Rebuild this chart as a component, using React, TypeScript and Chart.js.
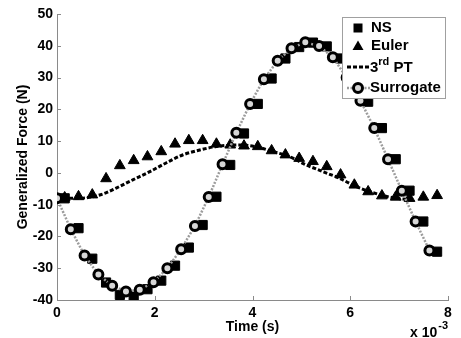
import { useEffect, useRef } from 'react';
import { Chart, registerables } from 'chart.js';

Chart.register(...registerables);

// Times in milliseconds (axis shows x 10^-3 s)
const nsTime = [0.157, 0.44, 0.722, 1.004, 1.286, 1.569, 1.851, 2.133, 2.415, 2.697, 2.98, 3.262, 3.544, 3.826, 4.108, 4.391, 4.673, 4.955, 5.237, 5.519, 5.802, 6.084, 6.366, 6.648, 6.93, 7.213, 7.495, 7.777];
const nsForce = [-8.0, -17.4, -27.0, -34.5, -38.4, -38.9, -36.6, -33.9, -29.2, -23.5, -16.4, -7.5, 2.5, 12.4, 21.7, 29.7, 36.0, 39.6, 41.0, 39.8, 36.0, 30.0, 22.4, 14.1, 4.3, -5.6, -15.3, -24.8];

const eulerTime = nsTime;
const eulerForce = [-7.8, -7.45, -6.9, -1.8, 2.3, 3.9, 5.1, 6.7, 9.1, 10.2, 10.2, 9.1, 8.8, 8.5, 8.3, 7.0, 5.7, 4.6, 3.6, 2.0, -0.6, -3.8, -5.9, -7.2, -7.6, -8.0, -7.6, -7.1];

const ptTime = [0, 0.35, 0.7, 1.0, 1.21, 1.55, 1.9, 2.24, 2.58, 2.92, 3.26, 3.74, 4.1, 4.42, 4.76, 5.1, 5.44, 5.78, 6.12, 6.46, 6.8, 7.15, 7.3];
const ptForce = [-8.0, -8.0, -7.6, -6.3, -4.8, -2.2, 0.4, 3.2, 5.7, 7.2, 8.3, 8.8, 8.1, 6.7, 5.1, 2.5, 0.4, -1.7, -4.3, -6.2, -7.6, -8.3, -8.3];

const surTime = [0, 0.282, 0.564, 0.847, 1.129, 1.411, 1.693, 1.975, 2.258, 2.54, 2.822, 3.104, 3.387, 3.669, 3.951, 4.233, 4.515, 4.798, 5.08, 5.362, 5.644, 5.926, 6.209, 6.491, 6.773, 7.055, 7.337, 7.62];
const surForce = [-8.0, -17.7, -26.0, -32.0, -35.5, -37.3, -36.8, -34.4, -30.0, -24.0, -16.7, -7.6, 2.7, 12.6, 21.7, 29.5, 35.3, 39.2, 41.1, 39.9, 36.4, 30.0, 22.7, 14.1, 4.3, -5.6, -15.3, -24.4];

const xTicks = [0, 2, 4, 6, 8];
const yTicks = [-40, -30, -20, -10, 0, 10, 20, 30, 40, 50];

const FONT = "'Liberation Sans', Arial, Helvetica, sans-serif";
const AXIS_GRAY = '#8a8a8a';
const SUR_GRAY = '#9c9c9c';

const pts = (xs: number[], ys: number[]) => xs.map((x, i) => ({ x, y: ys[i] }));

const overlayPlugin = {
  id: 'overlay',
  afterDatasetsDraw(chart: any) {
    const { ctx, chartArea, scales } = chart;
    const xs = scales.x;
    const ys = scales.y;
    ctx.save();
    // inward tick marks
    ctx.strokeStyle = AXIS_GRAY;
    ctx.lineWidth = 1;
    ctx.beginPath();
    xTicks.forEach((t) => {
      const px = Math.round(xs.getPixelForValue(t)) + 0.5;
      ctx.moveTo(px, chartArea.bottom);
      ctx.lineTo(px, chartArea.bottom - 4);
    });
    yTicks.forEach((t) => {
      const py = Math.round(ys.getPixelForValue(t)) + 0.5;
      ctx.moveTo(chartArea.left, py);
      ctx.lineTo(chartArea.left + 4, py);
    });
    ctx.stroke();

    // exponent label
    ctx.fillStyle = '#000';
    ctx.font = `bold 14px ${FONT}`;
    ctx.textBaseline = 'alphabetic';
    ctx.textAlign = 'left';
    const ex = 410;
    ctx.fillText('x 10', ex, 337);
    const w = ctx.measureText('x 10').width;
    ctx.font = `bold 11px ${FONT}`;
    ctx.fillText('-3', ex + w + 1, 329);

    // legend box
    const lx = 342, ly = 17, lw = 103, lh = 81;
    ctx.fillStyle = '#fff';
    ctx.fillRect(lx, ly, lw, lh);
    ctx.strokeStyle = '#a0a0a0';
    ctx.lineWidth = 1;
    ctx.strokeRect(lx + 0.5, ly + 0.5, lw, lh);

    const mx = 358;
    const tx = 371;
    const rows = [28, 46, 67, 88];
    ctx.fillStyle = '#000';
    // NS square
    ctx.fillRect(mx - 4.5, rows[0] - 4.5, 9, 9);
    // Euler triangle
    ctx.beginPath();
    ctx.moveTo(mx, rows[1] - 5.5);
    ctx.lineTo(mx + 5.5, rows[1] + 4);
    ctx.lineTo(mx - 5.5, rows[1] + 4);
    ctx.closePath();
    ctx.fill();
    // 3rd PT dashed line
    ctx.strokeStyle = '#000';
    ctx.lineWidth = 3;
    ctx.setLineDash([4, 2]);
    ctx.beginPath();
    ctx.moveTo(347, rows[2]);
    ctx.lineTo(370, rows[2]);
    ctx.stroke();
    // Surrogate line + circle
    ctx.strokeStyle = SUR_GRAY;
    ctx.lineWidth = 2.5;
    ctx.setLineDash([2, 1.5]);
    ctx.beginPath();
    ctx.moveTo(347, rows[3]);
    ctx.lineTo(370, rows[3]);
    ctx.stroke();
    ctx.setLineDash([]);
    ctx.beginPath();
    ctx.arc(mx, rows[3], 4.5, 0, Math.PI * 2);
    ctx.fillStyle = '#d6d6d6';
    ctx.fill();
    ctx.lineWidth = 3;
    ctx.strokeStyle = '#000';
    ctx.stroke();

    // legend text
    ctx.fillStyle = '#000';
    ctx.textBaseline = 'middle';
    ctx.font = `bold 15px ${FONT}`;
    ctx.fillText('NS', tx, rows[0]);
    ctx.fillText('Euler', tx, rows[1]);
    ctx.fillText('3', tx - 1, rows[2] + 1);
    const w3 = ctx.measureText('3').width;
    ctx.font = `bold 11px ${FONT}`;
    ctx.fillText('rd', tx - 1 + w3, rows[2] - 5);
    const wrd = ctx.measureText('rd').width;
    ctx.font = `bold 15px ${FONT}`;
    ctx.fillText(' PT', tx - 1 + w3 + wrd, rows[2] + 1);
    ctx.fillText('Surrogate', tx - 1, rows[3]);
    ctx.restore();
  },
};

export default function App() {
  const canvasRef = useRef<HTMLCanvasElement | null>(null);

  useEffect(() => {
    const canvas = canvasRef.current;
    if (!canvas) return;
    const chart = new Chart(canvas, {
      type: 'line',
      data: {
        datasets: [
          {
            label: 'Surrogate',
            data: pts(surTime, surForce),
            borderColor: SUR_GRAY,
            borderWidth: 2.5,
            borderDash: [2, 1.5],
            pointStyle: 'circle',
            pointRadius: 4.5,
            pointBorderWidth: 3,
            pointBorderColor: '#000',
            pointBackgroundColor: '#d6d6d6',
            tension: 0,
            order: 1,
          },
          {
            label: '3rd PT',
            data: pts(ptTime, ptForce),
            borderColor: '#000',
            borderWidth: 3,
            borderDash: [4, 2],
            pointRadius: 0,
            cubicInterpolationMode: 'monotone',
            order: 2,
          },
          {
            label: 'Euler',
            data: pts(eulerTime, eulerForce),
            showLine: false,
            pointStyle: 'triangle',
            pointRadius: 6.2,
            pointBorderWidth: 1,
            pointBorderColor: '#000',
            pointBackgroundColor: '#000',
            order: 3,
          },
          {
            label: 'NS',
            data: pts(nsTime, nsForce),
            showLine: false,
            pointStyle: 'rect',
            pointRadius: 6.5,
            pointBorderWidth: 1,
            pointBorderColor: '#000',
            pointBackgroundColor: '#000',
            order: 4,
          },
        ],
      },
      options: {
        animation: false,
        responsive: false,
        maintainAspectRatio: false,
        layout: { padding: { top: 14, right: 13, left: 0, bottom: 0 } },
        plugins: { legend: { display: false }, tooltip: { enabled: false } },
        scales: {
          x: {
            type: 'linear',
            min: 0,
            max: 8,
            afterBuildTicks: (s: any) => {
              s.ticks = xTicks.map((v) => ({ value: v }));
            },
            afterFit: (s: any) => {
              s.height = 38;
            },
            grid: { display: false, drawTicks: false },
            border: { display: true, color: AXIS_GRAY, width: 1 },
            ticks: {
              color: '#000',
              padding: 5,
              font: { family: FONT, size: 14, weight: 'bold' },
              maxRotation: 0,
            },
            title: {
              display: true,
              text: 'Time (s)',
              color: '#000',
              font: { family: FONT, size: 14, weight: 'bold' },
              padding: { top: 0, bottom: 2.5 },
            },
          },
          y: {
            type: 'linear',
            min: -40,
            max: 50,
            afterBuildTicks: (s: any) => {
              s.ticks = yTicks.map((v) => ({ value: v }));
            },
            afterFit: (s: any) => {
              s.width = 57;
            },
            grid: { display: false, drawTicks: false },
            border: { display: true, color: AXIS_GRAY, width: 1 },
            ticks: {
              color: '#000',
              padding: 4,
              font: { family: FONT, size: 14, weight: 'bold' },
            },
            title: {
              display: true,
              text: 'Generalized Force (N)',
              color: '#000',
              font: { family: FONT, size: 14, weight: 'bold' },
              padding: { top: 15, bottom: 0 },
            },
          },
        },
      },
      plugins: [overlayPlugin],
    } as any);
    return () => chart.destroy();
  }, []);

  return (
    <div style={{ position: 'absolute', left: 0, top: 0, width: 461, height: 338, background: '#fff' }}>
      <canvas ref={canvasRef} width={461} height={338} style={{ width: 461, height: 338 }} />
    </div>
  );
}
